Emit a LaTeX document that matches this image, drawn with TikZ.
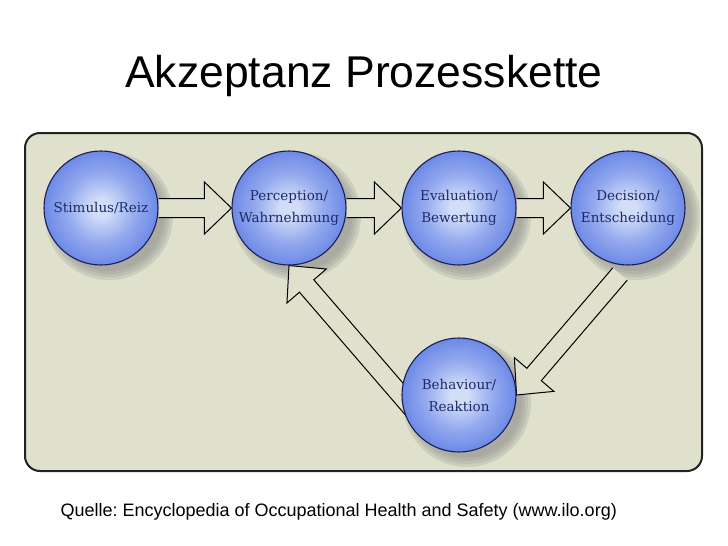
\documentclass[tikz,border=0pt]{standalone}
\usepackage{fontspec}
\setmainfont{Liberation Sans}
\newfontfamily\ballfont{DejaVu Serif}
\usetikzlibrary{calc}
\pgfdeclarelayer{bg}
\pgfsetlayers{bg,main}
\definecolor{bgbox}{HTML}{DFE1CC}
\definecolor{boxline}{HTML}{222222}
\definecolor{ballc}{HTML}{D2DDF8}
\definecolor{ballcm}{HTML}{94AAEE}
\definecolor{ballm}{HTML}{5A79E2}
\definecolor{balle}{HTML}{3452D4}
\definecolor{ballline}{HTML}{1A1E55}
\definecolor{balltext}{HTML}{1E2A66}
\definecolor{shadowc}{HTML}{8C8C8C}
\pgfdeclareradialshading{ballshade}{\pgfpoint{0bp}{0bp}}{color(0bp)=(ballc); color(4bp)=(ballc); color(15bp)=(ballcm); color(30bp)=(ballm); color(46bp)=(balle); color(100bp)=(balle)}
\tikzset{
  ball/.style={circle, minimum size=114pt, inner sep=0pt, draw=ballline, line width=1.1pt,
    shading=ballshade, text=balltext, align=center,
    font=\ballfont\fontsize{13.5}{22}\selectfont},
  arrline/.style={draw=black, fill=bgbox, line width=1pt, line join=miter},
  panel/.style={draw=boxline, line width=2pt, fill=bgbox, rounded corners=15pt}
}
\newcommand\blockarrow[2]{%
  \coordinate (ah) at ($(#2)!27pt!(#1)$);
  \draw[arrline] ($(#1)!9.5pt!90:(#2)$) -- ($(ah)!9.5pt!-90:(#1)$) -- ($(ah)!26pt!-90:(#1)$)
     -- (#2) -- ($(ah)!26pt!90:(#1)$) -- ($(ah)!9.5pt!90:(#1)$) -- ($(#1)!9.5pt!-90:(#2)$);
}
\newcommand\ballshadow[1]{%
  \foreach \rr in {64,61,58,55}{\fill[shadowc, opacity=0.22] ($(#1)+(8,8)$) circle (\rr pt);}
}
\begin{document}
\frenchspacing
\begin{tikzpicture}[x=1pt,y=-1pt]
\useasboundingbox (0,0) rectangle (728,546);
\node[font=\fontsize{44.5}{52}\selectfont, anchor=base] (title) at (364,87) {Akzeptanz Prozesskette};
\coordinate (cstim) at (101,208);
\coordinate (cper) at (289,208);
\coordinate (ceva) at (459,208);
\coordinate (cdec) at (628,208);
\coordinate (cbeh) at (459,395);
\node[ball] (stim) at (cstim) {Stimulus/Reiz};
\node[ball] (per) at (cper) {Perception/\\Wahrnehmung};
\node[ball] (eva) at (ceva) {Evaluation/\\Bewertung};
\node[ball] (dec) at (cdec) {Decision/\\Entscheidung};
\node[ball] (beh) at (cbeh) {Behaviour/\\Reaktion};
\begin{pgfonlayer}{bg}
\fill[white] (0,0) rectangle (728,546);
\draw[panel] (25,133) rectangle (702,471);
\ballshadow{cstim}
\ballshadow{cper}
\ballshadow{ceva}
\ballshadow{cdec}
\ballshadow{cbeh}
\blockarrow{stim.east}{per.west}
\blockarrow{per.east}{eva.west}
\blockarrow{eva.east}{dec.west}
\coordinate (d0) at ($(dec.center)+(-8,66)$);
\blockarrow{d0}{beh.east}
\coordinate (b0) at ($(beh.center)+(-41,20)$);
\blockarrow{b0}{per.south}
\end{pgfonlayer}
\node[font=\fontsize{18}{22}\selectfont, anchor=base west] (src) at (57,516) {Quelle: Encyclopedia of Occupational Health and Safety (www.ilo.org)};
\end{tikzpicture}
\end{document}
